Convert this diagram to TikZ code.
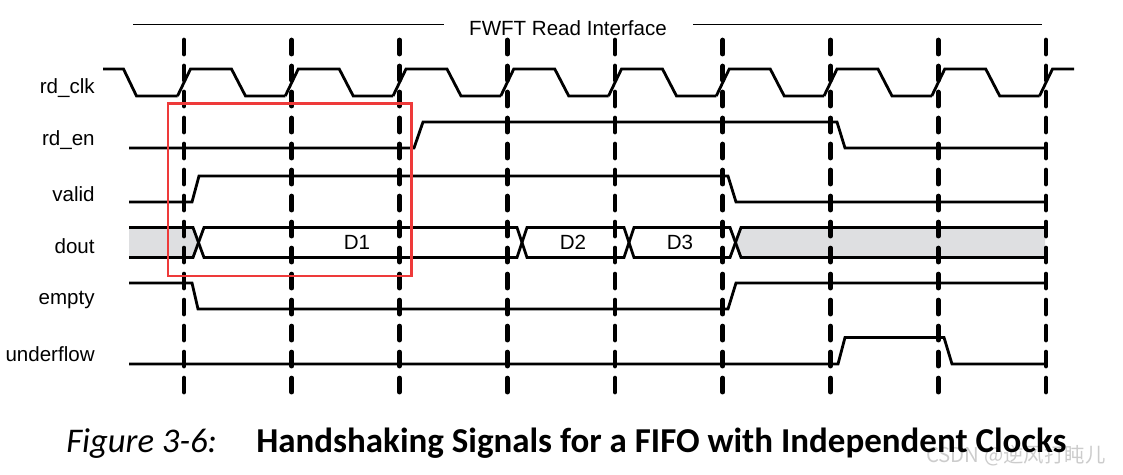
\documentclass[tikz,border=0pt]{standalone}
\usepackage{fontspec}
\setmainfont{Liberation Sans}
\newfontfamily\capfont{Carlito}
\newfontfamily\cjkfont{Noto Sans CJK SC}
\definecolor{busgray}{RGB}{222,223,225}
\definecolor{markred}{RGB}{238,58,58}
\tikzset{
  sig/.style={line width=1.6pt},
  clkline/.style={line width=2.7pt, line cap=round, dash pattern=on 8pt off 6.8pt},
  lbl/.style={inner sep=0pt, font=\fontsize{11.7}{14}\selectfont}
}
\def\clkcycle(#1){\draw[sig] ({#1-6.5},96) -- ({#1+6.5},69) -- ({#1+47.5},69) -- ({#1+61.5},96) -- ({#1+101.25},96);}

\begin{document}
\begin{tikzpicture}[x=0.02cm, y=-0.02cm]
		\useasboundingbox (0,0) rectangle (1123,474);
		%%%%% HEADER %%%%%
		
		\node[lbl, anchor=base] (hdr) at (568,35) {FWFT Read Interface};
		\draw[line width=0.75pt] (133,24.5) -- (444,24.5);
		\draw[line width=0.75pt] (693,24.5) -- (1042,24.5);
		
		%%%%% NAMES %%%%%
		\node[lbl, anchor=base east] (clk) at (95,93) {rd\_clk};
		\node[lbl, anchor=base east] (en) at (95,145) {rd\_en};
		\node[lbl, anchor=base east] (vld) at (95,201) {valid};
		\node[lbl, anchor=base east] (dout) at (95,253) {dout};
		\node[lbl, anchor=base east] (emp) at (95,304) {empty};
		\node[lbl, anchor=base east] (uflw) at (95,361) {underflow};
		
		%%%%% rd_clk %%%%%
		\draw[sig] (103,69) -- (123.5,69) -- (136.5,96) -- (177.5,96);
		\clkcycle(184)
		\clkcycle(291.75)
		\clkcycle(399.5)
		\clkcycle(507.25)
		\clkcycle(615)
		\clkcycle(722.75)
		\clkcycle(830.5)
		\clkcycle(938.25)
		\draw[sig] (1039.5,96) -- (1052.5,69) -- (1074,69);
		
		%%%%% rd_en, valid %%%%%
		\draw[sig] (129,148) -- (414,148) -- (423,122) -- (837,122) -- (845,148) -- (1045,148);
		\draw[sig] (129,202) -- (192,202) -- (199,176) -- (728,176) -- (736,202) -- (1045,202);
		
		%%%%% dout %%%%%
		\fill[busgray] (129,227.5) -- (193,227.5) -- (198.5,242.5) -- (193,257.5) -- (129,257.5) -- cycle;
		\fill[busgray] (735.5,242.5) -- (741,227.5) -- (1045,227.5) -- (1045,257.5) -- (741,257.5) -- cycle;
		\draw[sig] (129,227.5) -- (193,227.5) -- (204,257.5) -- (517,257.5) -- (527,227.5) -- (624,227.5) -- (634,257.5) -- (730,257.5) -- (741,227.5) -- (1045,227.5);
		\draw[sig] (129,257.5) -- (193,257.5) -- (204,227.5) -- (517,227.5) -- (527,257.5) -- (624,257.5) -- (634,227.5) -- (730,227.5) -- (741,257.5) -- (1045,257.5);
		\node[lbl] (d1) at (357,242.5) {D1};
		\node[lbl] (d2) at (573,242.5) {D2};
		\node[lbl] (d3) at (680,242.5) {D3};
		
		%%%%% empty, underflow %%%%%
		\draw[sig] (129,283) -- (192,283) -- (198,309) -- (728,309) -- (736,283) -- (1045,283);
		\draw[sig] (129,364) -- (838,364) -- (845,337.5) -- (944,337.5) -- (952,364) -- (1045,364);
		
		%%%%% EDGES %%%%%
		\draw[clkline] (184,40) -- (184,400);
		\draw[clkline] (291.75,40) -- (291.75,400);
		\draw[clkline] (399.5,40) -- (399.5,400);
		\draw[clkline] (507.25,40) -- (507.25,400);
		\draw[clkline] (615,40) -- (615,400);
		\draw[clkline] (722.75,40) -- (722.75,400);
		\draw[clkline] (830.5,40) -- (830.5,400);
		\draw[clkline] (938.25,40) -- (938.25,400);
		\draw[clkline] (1046,40) -- (1046,400);
		
		\draw[markred, line width=1.7pt] (168,103.5) rectangle (411.5,276);
		
		%%%%% CAPTION %%%%%
		\node[anchor=base west, inner sep=0pt, text=gray!40, font=\cjkfont\fontsize{11.6}{14}\selectfont] (wm) at (926,462) {CSDN @逆风打盹儿};
		\node[anchor=base west, inner sep=0pt, font=\capfont\itshape\fontsize{19.7}{22}\selectfont] (fig) at (66,452) {Figure 3-6:};
		\node[anchor=base west, inner sep=0pt, font=\capfont\bfseries\fontsize{19.9}{22}\selectfont] (ttl) at (256,452) {Handshaking Signals for a FIFO with Independent Clocks};
		
		%%%%% END %%%%%
	\end{tikzpicture}
\end{document}
